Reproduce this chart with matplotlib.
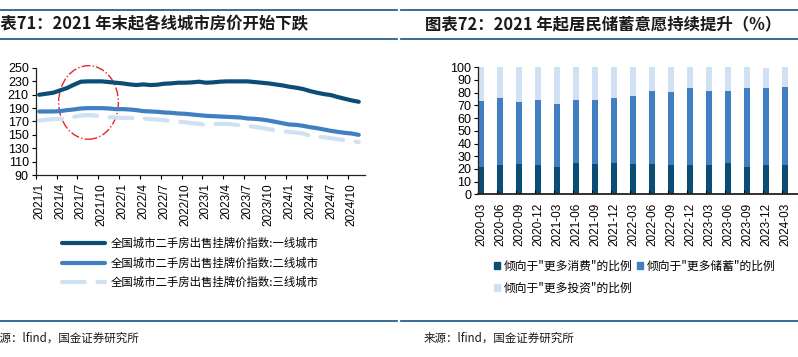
import matplotlib
matplotlib.use("Agg")
import matplotlib.pyplot as plt
from matplotlib.lines import Line2D
from matplotlib.patches import Ellipse, Patch
import numpy as np

plt.rcParams['font.family'] = ['Liberation Sans', 'Noto Sans CJK SC', 'DejaVu Sans']
CJK = ['Noto Sans CJK SC', 'DejaVu Sans']

# ---------------- data: left panel ----------------
months = [f"{y}/{m}" for y in range(2021, 2025) for m in range(1, 13)][:47]
tier1 = [210, 211.5, 213, 216.5, 220, 225, 229.5, 230, 230, 230, 229, 228,
         227, 225.5, 224.5, 225.5, 224.5, 225, 226.5, 227, 228, 228, 228.5, 229.5,
         228, 228.5, 229.5, 230, 230, 230, 230, 229, 228, 227, 225.5, 224,
         222, 220.5, 218.5, 215.5, 213, 211, 209.5, 206.5, 204, 201.5, 199.5]
tier2 = [185, 185, 185, 185.5, 187, 188, 189.5, 190, 190, 190, 189.5, 188.5,
         188.5, 188, 187, 185.5, 185, 184.5, 183.5, 183, 182, 181.5, 180.5, 179.5,
         178.5, 178, 177.5, 177, 176.5, 176, 174.5, 174, 173, 171.5, 169.5, 167.5,
         165.5, 165, 163.5, 161.5, 160, 158, 156, 154.5, 153, 152, 150]
tier3 = [171.5, 172.5, 173.5, 174, 175, 177, 179, 179.5, 179, 177.5, 176.5, 176,
         175.5, 175.5, 175, 174.5, 173.5, 173, 172, 171, 170, 169, 167.5, 166.5,
         165, 166, 166.5, 166.5, 165.5, 164, 163, 162, 160.5, 158.5, 157, 155.5,
         154.5, 153.5, 152, 148.5, 147.5, 146.5, 145, 143.5, 142, 141, 139]
series_labels = ["全国城市二手房出售挂牌价指数:一线城市",
                 "全国城市二手房出售挂牌价指数:二线城市",
                 "全国城市二手房出售挂牌价指数:三线城市"]
left_yticks = list(range(90, 251, 20))

# ---------------- data: right panel ----------------
quarters = ["2020-03", "2020-06", "2020-09", "2020-12", "2021-03", "2021-06",
            "2021-09", "2021-12", "2022-03", "2022-06", "2022-09", "2022-12",
            "2023-03", "2023-06", "2023-09", "2023-12", "2024-03"]
consume = [21.5, 22.8, 23.5, 22.8, 21.5, 24.5, 23.5, 24.5, 23.5, 23.5, 22.8,
           22.8, 22.8, 24.5, 21.5, 22.8, 22.8]
savings = [52.3, 52.8, 49.5, 51.2, 49.6, 49.5, 50.5, 51.1, 54.2, 58.1, 58.0,
           60.7, 58.2, 57.1, 62.0, 60.7, 61.7]
invest = [26.2, 24.4, 27.0, 26.0, 28.9, 26.0, 26.0, 24.4, 22.3, 18.4, 19.2,
          16.5, 19.0, 18.4, 16.5, 15.7, 15.5]
bar_labels = ['倾向于"更多消费"的比例', '倾向于"更多储蓄"的比例', '倾向于"更多投资"的比例']
right_yticks = list(range(0, 101, 10))

DARK = "#0b4d74"
MID = "#4080c2"
LIGHT = "#cfe1f2"
RULE = "#2b5f8c"

W, H = 798, 357
fig = plt.figure(figsize=(W / 100, H / 100), dpi=100)

def fx(px):
    return px / W

def fy(py):
    return 1 - py / H

# ---------------- left axes ----------------
axL = fig.add_axes([fx(35.7), fy(175), fx(365 - 35.7), (175 - 68) / H])
x = np.arange(len(months))
lw = 3.0
lnA, = axL.plot(x, tier1, color=DARK, lw=lw, solid_capstyle='round')
lnB, = axL.plot(x, tier2, color=MID, lw=lw, solid_capstyle='round')
lnC, = axL.plot(x, tier3, color=LIGHT, lw=lw, dash_capstyle='round',
                dashes=(5.5, 3))
axL.set_xlim(-0.5, len(months) - 0.5 + 0.4)
axL.set_ylim(90, 250)
axL.set_yticks(left_yticks)
axL.tick_params(axis='y', labelsize=9, length=3, width=0.8, pad=2, direction='out')
axL.set_xticks(x[::3])
axL.set_xticklabels(months[::3], rotation=90)
axL.set_xticks(np.arange(-0.5, len(months), 3), minor=True)
axL.tick_params(axis='x', which='major', length=0, labelsize=8.5, pad=6)
axL.tick_params(axis='x', which='minor', length=3, width=0.8, direction='out')
for s in ['top', 'right']:
    axL.spines[s].set_visible(False)
for s in ['left', 'bottom']:
    axL.spines[s].set_linewidth(0.9)
    axL.spines[s].set_color('#222222')

ell = Ellipse((7.1, 198.5), 8.6, 110, fill=False, edgecolor='#e8262a',
              lw=1.0, linestyle='-.', clip_on=False)
axL.add_patch(ell)

legL = fig.legend([lnA, lnB, lnC], series_labels, loc='upper left',
                  bbox_to_anchor=(fx(62), fy(238)), frameon=False,
                  prop={'family': CJK, 'size': 8.2}, handlelength=3.8,
                  handletextpad=0.45, labelspacing=0.72, borderpad=0,
                  borderaxespad=0)

# ---------------- right axes ----------------
axR = fig.add_axes([fx(478.3), fy(194.3), fx(797.7 - 478.3), (194.3 - 67.3) / H])
xr = np.arange(len(quarters))
bw = 0.3
c = np.array(consume)
s = np.array(savings)
iv = np.array(invest)
b1 = axR.bar(xr, c, bw, color=DARK, linewidth=0)
b2 = axR.bar(xr, s, bw, bottom=c, color=MID, linewidth=0)
b3 = axR.bar(xr, iv, bw, bottom=c + s, color=LIGHT, linewidth=0)
axR.set_xlim(-0.15, 16.66)
axR.set_ylim(0, 100)
axR.set_yticks(right_yticks)
axR.tick_params(axis='y', labelsize=9, length=3, width=0.8, pad=2, direction='out')
axR.set_xticks(xr)
axR.set_xticklabels(quarters, rotation=90)
axR.set_xticks(xr[1:] - 0.14, minor=True)
axR.tick_params(axis='x', which='major', length=0, labelsize=8.5, pad=6)
axR.tick_params(axis='x', which='minor', length=3, width=0.8, direction='in')
for sp in ['top', 'right']:
    axR.spines[sp].set_visible(False)
axR.spines['left'].set_linewidth(0.9)
axR.spines['left'].set_color('#222222')
axR.spines['bottom'].set_linewidth(1.3)
axR.spines['bottom'].set_color('#222222')

hR = [Patch(color=DARK), Patch(color=MID), Patch(color=LIGHT)]
legR = fig.legend([hR[0], hR[2], hR[1]], [bar_labels[0], bar_labels[2], bar_labels[1]],
                  ncol=2, loc='upper left', bbox_to_anchor=(fx(494), fy(260)),
                  frameon=False, prop={'family': CJK, 'size': 8.5},
                  handlelength=0.55, handleheight=0.55, handletextpad=0.3,
                  columnspacing=0.35, labelspacing=0.75, borderpad=0,
                  borderaxespad=0)

# ---------------- titles, rules, sources ----------------
for (a, b) in [(0, 397), (401, 798)]:
    for yy in [9.5, 39]:
        fig.add_artist(Line2D([fx(a), fx(b)], [fy(yy), fy(yy)], color=RULE, lw=1.3))
    fig.add_artist(Line2D([fx(a), fx(b)], [fy(321), fy(321)], color=RULE, lw=1.3))

fig.text(fx(-16), fy(24.5), "图表71：2021 年末起各线城市房价开始下跌", ha='left',
         va='center', fontsize=11.8, fontweight='bold', family=CJK, color='#1a1a1a')
fig.text(fx(425), fy(24.5), "图表72：2021 年起居民储蓄意愿持续提升（%）", ha='left',
         va='center', fontsize=11.8, fontweight='bold', family=CJK, color='#1a1a1a')
fig.text(fx(-11.5), fy(338), "来源：lfind，国金证券研究所", ha='left', va='center',
         fontsize=8.3, family=CJK, color='#1a1a1a')
fig.text(fx(424), fy(338), "来源：lfind，国金证券研究所", ha='left', va='center',
         fontsize=8.3, family=CJK, color='#1a1a1a')

fig.savefig("out.png", dpi=100)
